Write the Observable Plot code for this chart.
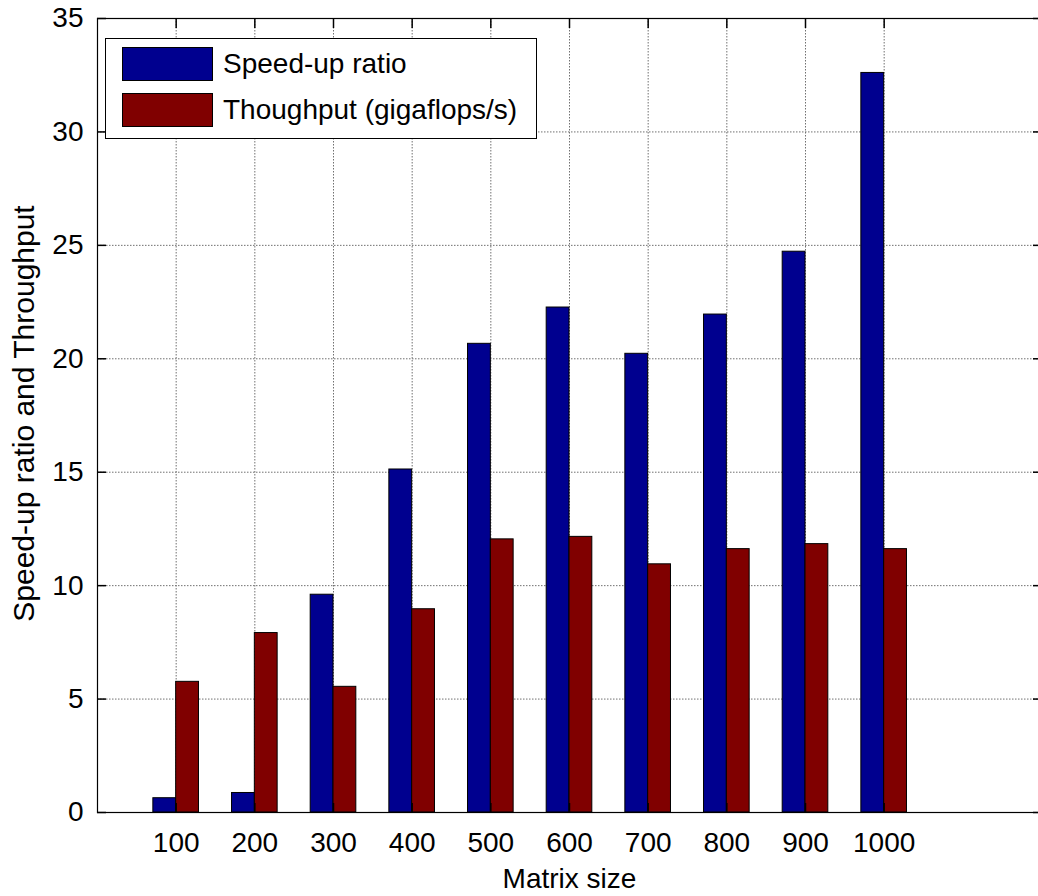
<!DOCTYPE html>
<html>
<head>
<meta charset="utf-8">
<script src="https://cdn.jsdelivr.net/npm/d3@7"></script>
<script src="https://cdn.jsdelivr.net/npm/@observablehq/plot@0.6"></script>
<style>
  html, body { margin: 0; padding: 0; background: #fff; }
  #wrap { position: relative; width: 1038px; height: 896px; overflow: hidden; font-family: "Liberation Sans", Arial, sans-serif; }
  #legend { position: absolute; left: 105px; top: 38px; width: 432px; height: 101px; background: #fff; border: 1px solid #000; box-sizing: border-box; }
  .item { position: absolute; left: 16px; display: flex; align-items: center; }
  .sw { width: 91px; height: 34px; border: 1px solid #000; box-sizing: border-box; margin-right: 10px; }
  .lab { font-size: 28px; color: #000; white-space: nowrap; }
</style>
</head>
<body>
<div id="wrap"></div>
<script>
// ---- data ----
const sizes = ["100", "200", "300", "400", "500", "600", "700", "800", "900", "1000"];
const speedup = [0.63, 0.86, 9.6, 15.12, 20.66, 22.26, 20.22, 21.95, 24.72, 32.6];
const throughput = [5.76, 7.91, 5.54, 8.96, 12.04, 12.15, 10.94, 11.61, 11.83, 11.61];
const seriesNames = ["Speed-up ratio", "Thoughput (gigaflops/s)"];
const seriesColors = ["#00008F", "#800000"];
const yTicks = [0, 5, 10, 15, 20, 25, 30, 35];

const barW = 0.29;
const rows = [];
sizes.forEach((s, i) => {
  rows.push({pos: i + 1, series: 0, value: speedup[i]});
  rows.push({pos: i + 1, series: 1, value: throughput[i]});
});
const xTicks = sizes.map((_, i) => i + 1);

const font = "Liberation Sans, Arial, sans-serif";
const noLabel = () => "";
const tk = 9;

const chart = Plot.plot({
  width: 1038,
  height: 896,
  marginTop: 18,
  marginBottom: 84,
  marginLeft: 97,
  marginRight: -3,
  style: {fontFamily: font, fontSize: "28px", background: "white", color: "black", overflow: "visible"},
  x: {type: "linear", domain: [0, 12], axis: null},
  y: {domain: [0, 35], axis: null},
  marks: [
    Plot.gridY({ticks: yTicks.slice(1, -1), stroke: "#707070", strokeOpacity: 1, strokeDasharray: "1.5,1.5", strokeWidth: 1}),
    Plot.gridX({ticks: xTicks, stroke: "#707070", strokeOpacity: 1, strokeDasharray: "1.5,1.5", strokeWidth: 1}),
    Plot.rect(rows, {
      x1: d => d.series === 0 ? d.pos - barW : d.pos,
      x2: d => d.series === 0 ? d.pos : d.pos + barW,
      y1: 0,
      y2: "value",
      fill: d => seriesColors[d.series],
      stroke: "#000",
      strokeWidth: 1
    }),
    // inward tick marks (drawn outward, then shifted inside)
    Plot.axisY({ticks: yTicks, anchor: "left", tickSize: tk, dx: tk, tickFormat: noLabel, stroke: "#000", strokeWidth: 1.5, label: null}),
    Plot.axisY({ticks: yTicks, anchor: "right", tickSize: tk, dx: -tk, tickFormat: noLabel, stroke: "#000", strokeWidth: 1.5, label: null}),
    Plot.axisX({ticks: xTicks, anchor: "top", tickSize: tk, dy: tk, tickFormat: noLabel, stroke: "#000", strokeWidth: 1.5, label: null}),
    Plot.axisX({ticks: xTicks, anchor: "bottom", tickSize: tk, dy: -tk, tickFormat: noLabel, stroke: "#000", strokeWidth: 1.5, label: null}),
    // tick labels
    Plot.axisY({ticks: yTicks, anchor: "left", tickSize: 0, tickPadding: 14, tickFormat: d => String(d), fontSize: 28, label: null}),
    Plot.axisX({ticks: xTicks, anchor: "bottom", tickSize: 0, tickPadding: 20, tickFormat: d => sizes[d - 1], fontSize: 28, label: null}),
    Plot.frame({stroke: "#000", strokeWidth: 1.2}),
    // axis titles
    Plot.text(["Matrix size"], {frameAnchor: "bottom", dy: 56, lineAnchor: "top", textAnchor: "middle", fontSize: 28, fill: "#000"}),
    Plot.text(["Speed-up ratio and Throughput"], {frameAnchor: "left", dx: -64, dy: -2, rotate: -90, lineAnchor: "bottom", textAnchor: "middle", fontSize: 30, fill: "#000"})
  ]
});

const wrap = document.getElementById("wrap");
wrap.appendChild(chart);

// legend
const legend = document.createElement("div");
legend.id = "legend";
seriesNames.forEach((name, i) => {
  const item = document.createElement("div");
  item.className = "item";
  item.style.top = (i === 0 ? 8 : 54) + "px";
  const sw = document.createElement("div");
  sw.className = "sw";
  sw.style.background = seriesColors[i];
  const lab = document.createElement("span");
  lab.className = "lab";
  lab.textContent = name;
  item.appendChild(sw);
  item.appendChild(lab);
  legend.appendChild(item);
});
wrap.appendChild(legend);
</script>
</body>
</html>
